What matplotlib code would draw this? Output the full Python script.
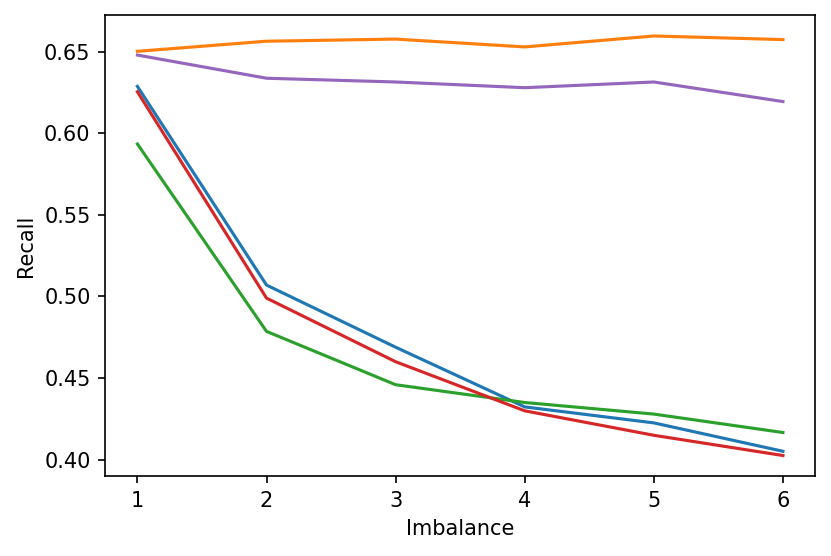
import matplotlib
matplotlib.use('Agg')
import matplotlib.pyplot as plt

imbalance = [1, 2, 3, 4, 5, 6]

recall_a = [0.6288, 0.5070, 0.4689, 0.4323, 0.4225, 0.4051]
recall_b = [0.6503, 0.6565, 0.6578, 0.6530, 0.6597, 0.6575]
recall_c = [0.5935, 0.4786, 0.4459, 0.4350, 0.4279, 0.4166]
recall_d = [0.6255, 0.4990, 0.4600, 0.4299, 0.4149, 0.4025]
recall_e = [0.6480, 0.6338, 0.6315, 0.6280, 0.6315, 0.6195]

fig, ax = plt.subplots(figsize=(831/150, 556/150), dpi=150)
fig.subplots_adjust(left=0.1265, right=0.981, top=0.973, bottom=0.143)

for r in [recall_a, recall_b, recall_c, recall_d, recall_e]:
    ax.plot(imbalance, r)

ax.set(xlabel='Imbalance', ylabel='Recall')
ax.set_yticks([0.40, 0.45, 0.50, 0.55, 0.60, 0.65])

fig.savefig('out.png', dpi=150)
